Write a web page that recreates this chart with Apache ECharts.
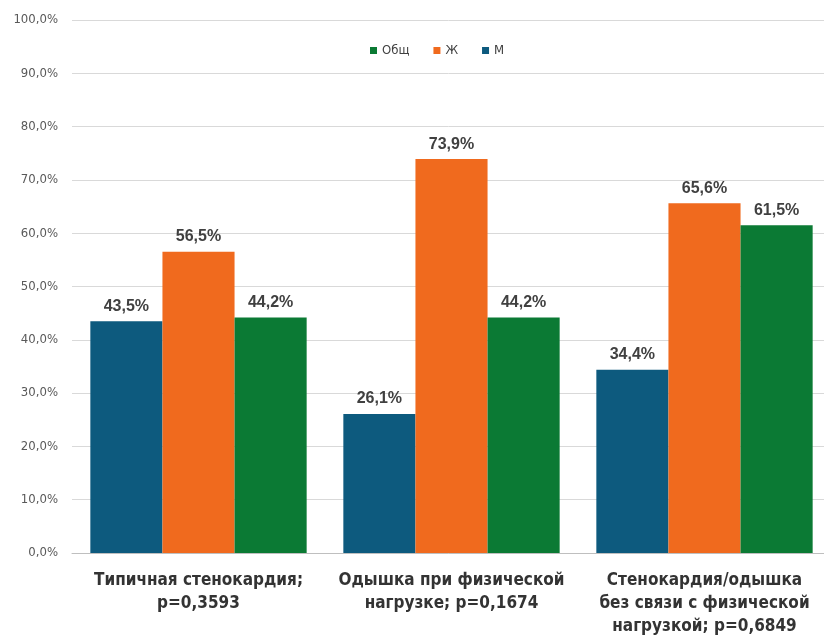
<!DOCTYPE html>
<html>
<head>
<meta charset="utf-8">
<script src="https://cdn.jsdelivr.net/npm/echarts@6/dist/echarts.min.js"></script>
<style>
  html, body { margin: 0; padding: 0; background: #fff; }
  #chart { width: 824px; height: 638px; }
</style>
</head>
<body>
<div id="chart"></div>
<script>
// Symptom categories with p-values
const categories = [
  'Типичная стенокардия;\np=0,3593',
  'Одышка при физической\nнагрузке; p=0,1674',
  'Стенокардия/одышка\nбез связи с физической\nнагрузкой; p=0,6849'
];
// Share of patients, %
const menValues = [43.5, 26.1, 34.4];     // М
const womenValues = [56.5, 73.9, 65.6];   // Ж
const totalValues = [44.2, 44.2, 61.5];   // Общ
const legendOrder = ['Общ', 'Ж', 'М'];
const yTicks = { min: 0, max: 100, interval: 10 };

const fmt = v => v.toFixed(1).replace('.', ',') + '%';
const narrow = '"Liberation Sans Narrow", "DejaVu Sans Condensed", "Liberation Sans", sans-serif';

const labelStyle = {
  show: true,
  position: 'top',
  distance: 7,
  color: '#404040',
  fontSize: 16,
  fontWeight: 'bold',
  fontFamily: '"Liberation Sans", Arial, sans-serif',
  formatter: p => fmt(p.value)
};

const chart = echarts.init(document.getElementById('chart'));
chart.setOption({
  animation: false,
  backgroundColor: '#ffffff',
  legend: {
    data: legendOrder,
    top: 39,
    left: 365,
    itemWidth: 7,
    itemHeight: 7,
    itemGap: 24,
    icon: 'rect',
    textStyle: { color: '#404040', fontSize: 13, fontFamily: narrow }
  },
  grid: { left: 72, width: 759, top: 20, bottom: 85, outerBoundsMode: 'none', containLabel: false },
  xAxis: {
    type: 'category',
    data: categories,
    axisLine: { lineStyle: { color: '#bfbfbf' } },
    axisTick: { show: false },
    axisLabel: {
      margin: 16,
      color: '#333333',
      fontSize: 17,
      fontWeight: 'bold',
      lineHeight: 23,
      fontFamily: narrow,
      interval: 0
    }
  },
  yAxis: {
    type: 'value',
    min: yTicks.min,
    max: yTicks.max,
    interval: yTicks.interval,
    axisLine: { show: false },
    axisTick: { show: false },
    splitLine: { lineStyle: { color: '#d9d9d9' } },
    axisLabel: {
      margin: 14,
      color: '#595959',
      fontSize: 13,
      fontFamily: narrow,
      formatter: v => fmt(v)
    }
  },
  series: [
    {
      name: 'М', type: 'bar', data: menValues,
      itemStyle: { color: '#0d5a7e' },
      barGap: '0%', barCategoryGap: '14.5%',
      label: labelStyle
    },
    {
      name: 'Ж', type: 'bar', data: womenValues,
      itemStyle: { color: '#f06a1e' },
      label: labelStyle
    },
    {
      name: 'Общ', type: 'bar', data: totalValues,
      itemStyle: { color: '#0b7a34' },
      label: labelStyle
    }
  ]
});
</script>
</body>
</html>
